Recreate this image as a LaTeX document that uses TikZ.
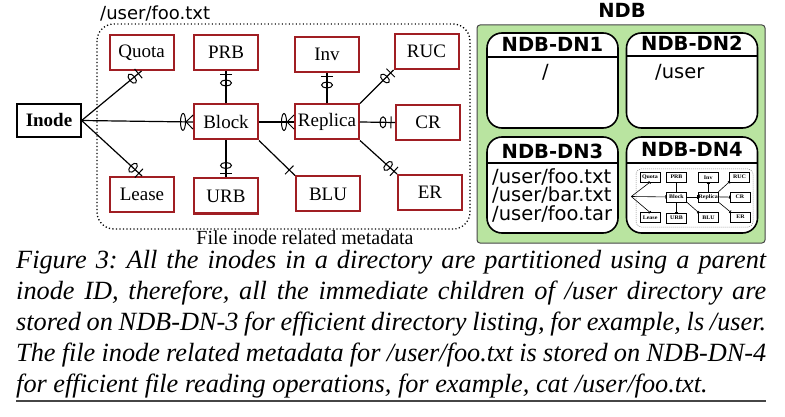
\documentclass[tikz,border=0pt]{standalone}
\usepackage{fontspec}
\setmainfont{Liberation Serif}
\newfontfamily\dejavu{DejaVu Sans}
\usetikzlibrary{decorations.markings,arrows.meta}
\definecolor{erred}{RGB}{160,30,35}
\definecolor{ndbgreen}{RGB}{185,228,160}
\definecolor{rulegray}{RGB}{70,70,70}

\tikzset{
 ent/.style={draw=erred, line width=2pt, minimum width=64pt, minimum height=35pt, inner sep=0pt, font=\fontsize{19}{22}\selectfont, fill=white},
 rel/.style={line width=1.2pt},
 zo/.style={postaction={decorate}, decoration={markings, mark=at position 1 with {\draw[line width=1pt] (-4pt,-6pt) -- (-4pt,6pt); \draw[line width=1pt] (-12pt,0pt) ellipse (3pt and 5.5pt);}}},
 zm/.style={postaction={decorate}, decoration={markings, mark=at position 1 with {\draw[line width=1pt] (-7pt,0pt) -- (0pt,7pt) (-7pt,0pt) -- (0pt,-7pt); \draw[line width=1pt] (-10pt,0pt) ellipse (2.5pt and 8.5pt);}}},
 one/.style={postaction={decorate}, decoration={markings, mark=at position 1 with {\draw[line width=1pt] (-8pt,-6pt) -- (-8pt,6pt);}}},
 dnbox/.style={draw=black, line width=1.6pt, fill=white, rounded corners=15pt, minimum width=131pt, minimum height=95pt, inner sep=0pt},
 dntitle/.style={anchor=base, inner sep=0pt, font=\dejavu\bfseries\fontsize{19.5}{22}\selectfont},
 dntext/.style={anchor=base west, inner sep=0pt, font=\dejavu\fontsize{19.5}{19}\selectfont, align=left},
}

\newcommand{\ERcore}[1]{%
 \node[ent] (#1quota) at (141.5,52.5) {Quota};
 \node[ent] (#1prb) at (226,52.5) {PRB};
 \node[ent] (#1inv) at (327,54.5) {Inv};
 \node[ent] (#1ruc) at (426.5,51.5) {RUC};
 \node[ent] (#1block) at (226,122) {Block};
 \node[ent] (#1replica) at (327,122) {Replica};
 \node[ent] (#1cr) at (428,122.5) {CR};
 \node[ent] (#1lease) at (142,194.5) {Lease};
 \node[ent] (#1urb) at (226,196) {URB};
 \node[ent] (#1blu) at (328,194) {BLU};
 \node[ent] (#1er) at (430,192.5) {ER};
 \draw[rel,zo] (#1block.north) -- (#1prb.south);
 \draw[rel,zo] (#1block.south) -- (#1urb.north);
 \draw[rel,zm] (#1block.east) -- (#1replica.west);
 \draw[rel,one] (#1block.south east) -- (#1blu.north west);
 \draw[rel,zo] (#1replica.north) -- (#1inv.south);
 \draw[rel,zo] (#1replica.north east) -- (#1ruc.south west);
 \draw[rel,zo] (#1replica.east) -- (#1cr.west);
 \draw[rel,zo] (#1replica.south east) -- (#1er.north west);
 \draw[rel,zo] (#1src) -- (#1quota.south);
 \draw[rel,zo] (#1src) -- (#1lease.north);
 \draw[rel,zm] (#1src) -- (#1block.west);
}

\begin{document}
\begin{tikzpicture}[x=1pt,y=-1pt]
\useasboundingbox (0,0) rectangle (785,417);

% ---------- left ER diagram ----------
\node[anchor=base west, inner sep=0pt, font=\dejavu\fontsize{18}{20}\selectfont] (path) at (100,20) {/user/foo.txt};
\draw[line width=1.3pt, dash pattern=on 1.2pt off 2.3pt, rounded corners=17pt] (97,24) rectangle (470,229);
\node[anchor=base, inner sep=0pt, font=\fontsize{20}{22}\selectfont] (meta) at (305,244) {File inode related metadata};

\node[draw=black, line width=1.3pt, minimum width=64pt, minimum height=33pt, inner sep=0pt, font=\fontsize{19}{22}\selectfont\bfseries] (inode) at (49,120.5) {Inode};
\coordinate (src) at (inode.east);
\ERcore{}

% ---------- NDB ----------
\node[anchor=base, inner sep=0pt, font=\dejavu\bfseries\fontsize{19.5}{22}\selectfont] (ndbt) at (622,18) {NDB};
\node[fill=ndbgreen, draw=rulegray, line width=1pt, rounded corners=3pt, minimum width=288pt, minimum height=218pt, inner sep=0pt] (ndb) at (621,134) {};

\node[dnbox] (dn1) at (552.5,80.5) {};
\node[dnbox] (dn2) at (692,80.5) {};
\node[dnbox, minimum height=96pt] (dn3) at (552.5,185) {};
\node[dnbox, minimum height=96pt] (dn4) at (692,185) {};
\draw[line width=1.2pt] (487,57) -- (618,57);
\draw[line width=1.2pt] (627,56) -- (757,56);
\draw[line width=1.2pt] (487,163) -- (618,163);
\draw[line width=1.2pt] (627,163) -- (757,163);

\node[dntitle] (dn1t) at (552.5,52) {NDB-DN1};
\node[dntitle] (dn2t) at (692,51) {NDB-DN2};
\node[dntitle] (dn3t) at (552.5,159) {NDB-DN3};
\node[dntitle] (dn4t) at (692,157) {NDB-DN4};

\node[dntext] (dn1x) at (542,79) {/};
\node[dntext] (dn2x) at (655,79) {/user};
\node[dntext] (dn3a) at (492,183) {/user/foo.txt};
\node[dntext] (dn3b) at (492,202) {/user/bar.txt};
\node[dntext] (dn3c) at (492,221) {/user/foo.tar};

% mini diagram in DN4
\draw[gray, line width=0.5pt, dash pattern=on 1pt off 1pt, rounded corners=5pt] (636,169) rectangle (753,227);
\begin{scope}[shift={(636,169)}, xscale=0.314, yscale=0.285, shift={(-97,-24)}, transform shape,
  ent/.style={draw=black, line width=0.6pt, minimum width=64pt, minimum height=35pt, inner sep=0pt, font=\fontsize{19}{22}\selectfont\bfseries, fill=white},
  rel/.style={line width=0.6pt},
  zo/.style={-{Bar[width=3pt,line width=0.8pt]}},
  zm/.style={-{Bar[width=3.5pt,line width=0.9pt]}},
  one/.style={-{Bar[width=3pt,line width=0.8pt]}}]
 \coordinate (msrc) at (82,120.5);
 \ERcore{m}
\end{scope}

% ---------- caption ----------
\node[anchor=base west, text width=750pt, align=justify, inner sep=0pt, font=\fontsize{26.3}{31.25}\selectfont\itshape\frenchspacing] (cap) at (16,268) {Figure 3: All the inodes in a directory are partitioned using a parent\linebreak inode ID, therefore, all the immediate children of /user directory are\linebreak stored on NDB-DN-3 for efficient directory listing, for example, ls /user.\linebreak The file inode related metadata for /user/foo.txt is stored on NDB-DN-4\linebreak for efficient file reading operations, for example, cat /user/foo.txt.};
\draw[rulegray, line width=1.3pt] (16,401) -- (766,401);
\end{tikzpicture}
\end{document}
